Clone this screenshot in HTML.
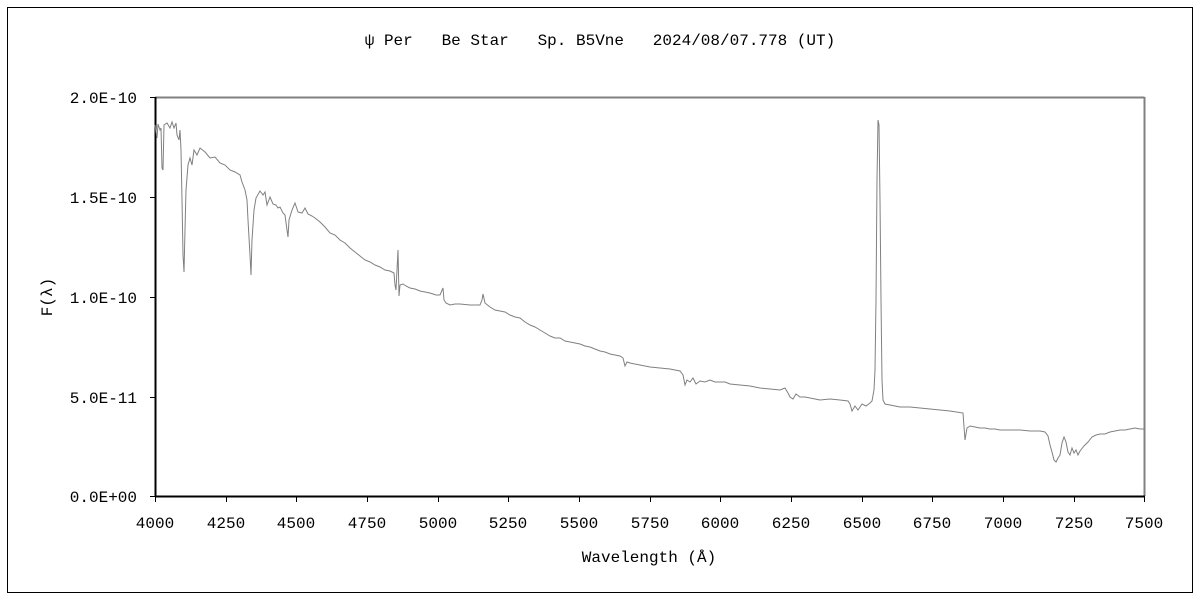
<!DOCTYPE html>
<html><head><meta charset="utf-8"><style>
body{margin:0;background:#fff;}
svg{display:block;font-family:"Liberation Mono","Noto Sans CJK JP",monospace;}
</style></head><body>
<svg width="1200" height="600" viewBox="0 0 1200 600" xmlns="http://www.w3.org/2000/svg">
<rect x="0" y="0" width="1200" height="600" fill="#fff"/>
<rect x="7.5" y="7.5" width="1185" height="585" fill="none" stroke="#000" stroke-width="1"/>
<text x="600" y="45" font-size="16" text-anchor="middle" fill="#000" xml:space="preserve">ψ Per   Be Star   Sp. B5Vne   2024/08/07.778 (UT)</text>
<line x1="155" y1="97.5" x2="1144.5" y2="97.5" stroke="#808080" stroke-width="2"/>
<line x1="1144.5" y1="97" x2="1144.5" y2="496" stroke="#808080" stroke-width="2"/>
<line x1="155.5" y1="97" x2="155.5" y2="496" stroke="#000" stroke-width="2"/>
<line x1="155" y1="496.5" x2="1145" y2="496.5" stroke="#000" stroke-width="2"/>
<g stroke="#000" stroke-width="1">
<line x1="150" y1="97.5" x2="155" y2="97.5"/><line x1="150" y1="197.5" x2="155" y2="197.5"/><line x1="150" y1="297.5" x2="155" y2="297.5"/><line x1="150" y1="397.5" x2="155" y2="397.5"/><line x1="150" y1="496.5" x2="155" y2="496.5"/>
<line x1="155.5" y1="496" x2="155.5" y2="502"/><line x1="226.5" y1="496" x2="226.5" y2="502"/><line x1="296.5" y1="496" x2="296.5" y2="502"/><line x1="367.5" y1="496" x2="367.5" y2="502"/><line x1="438.5" y1="496" x2="438.5" y2="502"/><line x1="508.5" y1="496" x2="508.5" y2="502"/><line x1="579.5" y1="496" x2="579.5" y2="502"/><line x1="650.5" y1="496" x2="650.5" y2="502"/><line x1="720.5" y1="496" x2="720.5" y2="502"/><line x1="791.5" y1="496" x2="791.5" y2="502"/><line x1="862.5" y1="496" x2="862.5" y2="502"/><line x1="932.5" y1="496" x2="932.5" y2="502"/><line x1="1003.5" y1="496" x2="1003.5" y2="502"/><line x1="1074.5" y1="496" x2="1074.5" y2="502"/><line x1="1144.5" y1="496" x2="1144.5" y2="502"/>
</g>
<g font-size="16" fill="#000" text-anchor="end">
<text x="137" y="103">2.0E-10</text><text x="137" y="203">1.5E-10</text><text x="137" y="303">1.0E-10</text><text x="137" y="403">5.0E-11</text><text x="137" y="502">0.0E+00</text>
</g>
<g font-size="16" fill="#000" text-anchor="middle">
<text x="155" y="528">4000</text><text x="226" y="528">4250</text><text x="296" y="528">4500</text><text x="367" y="528">4750</text><text x="438" y="528">5000</text><text x="508" y="528">5250</text><text x="579" y="528">5500</text><text x="650" y="528">5750</text><text x="720" y="528">6000</text><text x="791" y="528">6250</text><text x="862" y="528">6500</text><text x="932" y="528">6750</text><text x="1003" y="528">7000</text><text x="1074" y="528">7250</text><text x="1144" y="528">7500</text>
<text x="649" y="562">Wavelength (Å)</text>
<text x="0" y="0" transform="translate(52,297) rotate(-90)">F(λ)</text>
</g>
<polyline fill="none" stroke="#808080" stroke-width="1" points="155,125 157,138 158,124 160,130 161,128 162,168 163,170 164,125 167,123 170,128 172,122 174,128 176,123 177,135 179,140 180,130 181,150 182,200 183,255 184,272 185,230 186,190 188,165 190,158 192,165 194,150 197,155 200,148 205,152 210,158 215,157 220,163 225,165 230,170 235,172 240,175 242,182 245,190 247,200 248,220 250,255 251,275 252,240 254,210 256,198 260,191 263,195 265,192 267,205 270,197 273,204 276,205 278,208 280,207 283,213 285,215 287,230 288,237 289,220 292,210 295,203 298,212 302,213 305,208 308,214 312,216 315,218 320,222 325,227 330,233 335,235 340,240 345,243 350,248 355,252 360,256 365,260 370,262 375,265 380,267 385,270 390,271 394,273 395,285 396,290 397,270 398,250 399,296 400,285 403,284 406,286 410,288 415,289 420,291 425,292 430,293 436,295 440,295 443,288 444,300 446,303 450,305 455,304 460,304 470,305 480,305 482,300 483,294 485,303 490,307 495,310 500,311 505,312 510,315 515,317 520,318 525,322 530,325 535,327 540,330 545,333 550,336 555,338 560,338 565,341 570,342 575,343 580,344 585,346 590,347 595,349 600,351 605,352 610,354 615,355 620,356 623,358 625,366 627,362 630,363 640,365 650,367 660,368 670,369 680,371 683,375 685,385 687,380 690,382 693,378 696,384 700,381 705,382 710,380 715,382 720,382 725,382 730,384 740,385 750,386 760,388 770,389 780,390 785,388 788,393 790,397 793,399 796,394 800,397 805,397 810,398 820,400 830,399 840,400 848,401 850,404 852,411 855,406 858,410 862,404 866,406 870,403 872,401 874,390 875,370 876,300 877,180 878,120 879,125 880,200 881,300 882,380 883,400 885,404 890,405 895,406 900,407 910,407 920,408 930,409 940,410 950,411 963,413 965,440 967,428 970,426 975,427 980,428 985,428 990,429 995,429 1000,430 1010,430 1020,430 1030,431 1040,431 1045,432 1048,436 1050,445 1052,452 1054,460 1056,462 1058,458 1060,455 1062,443 1064,437 1066,442 1068,452 1070,455 1072,448 1074,453 1076,450 1078,455 1080,451 1084,446 1088,442 1092,437 1096,435 1100,434 1105,434 1110,432 1115,431 1120,430 1125,430 1130,429 1135,428 1140,429 1144,429"/>
</svg>
</body></html>
